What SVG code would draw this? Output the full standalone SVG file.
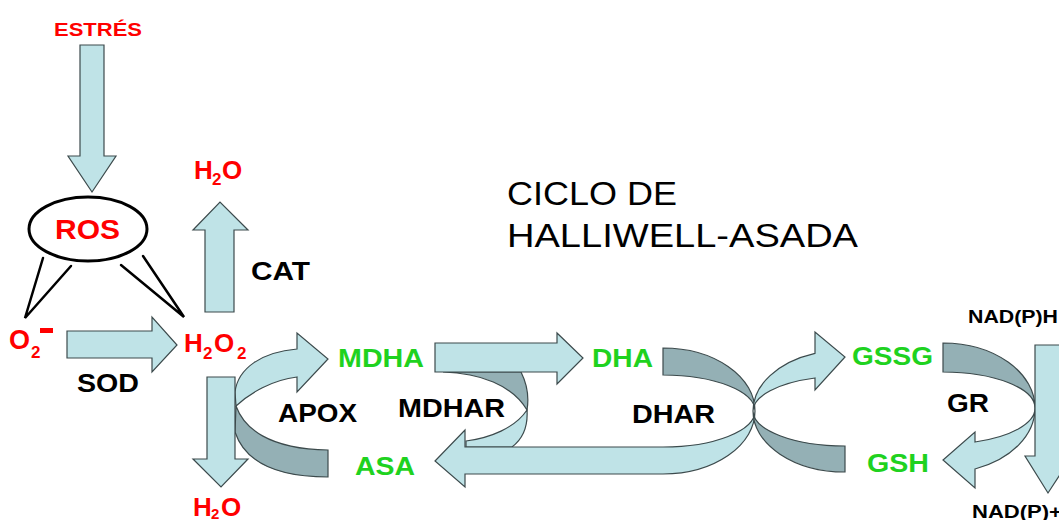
<svg xmlns="http://www.w3.org/2000/svg" width="1059" height="520" viewBox="0 0 1059 520">
  <style>
    .light { fill: #bfe3e7; stroke: #3c4a4c; stroke-width: 1.2; stroke-linejoin: miter; }
    .dark { fill: #94b0b5; stroke: #3c4a4c; stroke-width: 1.2; }
    .t { font-family: "Liberation Sans", Arial, sans-serif; font-weight: bold; }
    .red { fill: #ff0000; }
    .green { fill: #1fd21f; }
    .black { fill: #000000; }
    .title { font-family: "Liberation Sans", Arial, sans-serif; font-size: 33px; fill: #000; }
    .link { stroke: #000; stroke-width: 2.5; fill: none; stroke-linecap: round; }
  </style>
  <rect width="1059" height="520" fill="#ffffff"/>

  <!-- connectors: block arrows and curved reaction ribbons -->
  <g id="connectors">
    <!-- stress to ROS -->
    <path class="light" d="M80,45 H104 V156 H116 L92,192 L68,156 H80 Z"/>
    <!-- ROS branches -->
    <path class="link" d="M43,258 L25,318 L71,266"/>
    <path class="link" d="M121,265 L184,317 L143,256"/>
    <!-- SOD: superoxide to peroxide -->
    <path class="light" d="M67,331 H152 V317 L177,345 L152,372 V358 H67 Z"/>
    <!-- CAT: peroxide to water (up) -->
    <path class="light" d="M205,312 V230 H193 L220,202 L248,230 H234 V312 Z"/>
    <!-- APOX ribbon -->
    <path class="dark" d="M236,406 C244,428 268,449 328,450 V477 C275,477 245,462 235,432 Z"/>
    <path class="light" d="M235,392 C238,368 262,352 297,349 V333 L328,359 L297,392 V377 C272,380 250,393 236,406 Z"/>
    <!-- peroxide to water (down) -->
    <path class="light" d="M207,377 H235 V459 H248 L221,487 L193,459 H207 Z"/>
    <!-- MDHAR ribbon -->
    <path class="dark" d="M443,372 L521,372 C527,384 529,398 527,410 C512,385 480,373 443,372 Z"/>
    <path class="light" d="M527,410 C528,425 524,438 512,447 L466,447 L466,441 C490,438 515,428 527,410 Z"/>
    <!-- MDHA to DHA -->
    <path class="light" d="M435,343 H557 V333 L583,358 L557,384 V372 H435 Z"/>
    <!-- DHAR ribbon ending in the ASA arrow -->
    <path class="dark" d="M663,348 A92,63 0 0 1 755,411 A92,36 0 0 0 663,375 Z"/>
    <path class="light" d="M755,411 A92,63 0 0 1 663,474 H465 V487 L435,461 L465,430 V447 H663 A92,36 0 0 0 755,411 Z"/>
    <!-- glutathione ribbon -->
    <path class="dark" d="M753,411 A92,61 0 0 0 845,472 V446 A92,35 0 0 1 753,411 Z"/>
    <path class="light" d="M753,411 A92,61 0 0 1 815,353.3 V332 L845,357 L815,390 V378 A92,35 0 0 0 753,411 Z"/>
    <!-- GR ribbon -->
    <path class="dark" d="M943,343 A92,65 0 0 1 1035,408 A92,36 0 0 0 943,372 Z"/>
    <path class="light" d="M1035,408 A92,65 0 0 1 975,469 V488 L943,460 L975,432 V442 A92,36 0 0 0 1035,408 Z"/>
    <!-- NAD(P)H to NAD(P)+ -->
    <path class="light" d="M1035,345 H1061 V456 H1072 L1048,493 L1025,456 H1035 Z"/>
  </g>

  <g id="estres">
    <text class="t red" x="54" y="36" font-size="18" textLength="88" lengthAdjust="spacingAndGlyphs">ESTRÉS</text>
  </g>

  <g id="ros">
    <ellipse cx="88" cy="229" rx="59" ry="32" fill="#ffffff" stroke="#000" stroke-width="3"/>
    <text class="t red" x="55" y="239" font-size="28" textLength="65" lengthAdjust="spacingAndGlyphs">ROS</text>
  </g>

  <g id="superoxide">
    <text class="t red" x="9" y="349" font-size="27">O</text>
    <text class="t red" x="31" y="358" font-size="17">2</text>
    <rect x="40" y="328" width="13" height="5" fill="#ff0000"/>
  </g>

  <g id="peroxide">
    <text class="t red" x="184" y="352" font-size="26">H</text>
    <text class="t red" x="203" y="359" font-size="17">2</text>
    <text class="t red" x="214" y="352" font-size="26">O</text>
    <text class="t red" x="237" y="359" font-size="17">2</text>
  </g>

  <g id="water-top">
    <text class="t red" x="194" y="179" font-size="26">H</text>
    <text class="t red" x="212" y="185" font-size="17">2</text>
    <text class="t red" x="222" y="179" font-size="26">O</text>
  </g>

  <g id="water-bottom">
    <text class="t red" x="193" y="516" font-size="26">H</text>
    <text class="t red" x="211" y="519" font-size="15">2</text>
    <text class="t red" x="221" y="516" font-size="26">O</text>
  </g>

  <g id="enzymes">
    <text class="t black" x="251" y="280" font-size="25" textLength="59" lengthAdjust="spacingAndGlyphs">CAT</text>
    <text class="t black" x="77" y="392" font-size="25" textLength="62" lengthAdjust="spacingAndGlyphs">SOD</text>
    <text class="t black" x="278" y="422" font-size="25" textLength="79" lengthAdjust="spacingAndGlyphs">APOX</text>
    <text class="t black" x="398" y="417" font-size="25" textLength="107" lengthAdjust="spacingAndGlyphs">MDHAR</text>
    <text class="t black" x="632" y="423" font-size="25" textLength="83" lengthAdjust="spacingAndGlyphs">DHAR</text>
    <text class="t black" x="947" y="412" font-size="25" textLength="42" lengthAdjust="spacingAndGlyphs">GR</text>
  </g>

  <g id="mdha">
    <text class="t green" x="338" y="367" font-size="26" textLength="86" lengthAdjust="spacingAndGlyphs">MDHA</text>
  </g>
  <g id="dha">
    <text class="t green" x="592" y="367" font-size="26" textLength="61" lengthAdjust="spacingAndGlyphs">DHA</text>
  </g>
  <g id="asa">
    <text class="t green" x="355" y="475" font-size="26" textLength="60" lengthAdjust="spacingAndGlyphs">ASA</text>
  </g>
  <g id="gssg">
    <text class="t green" x="852" y="365" font-size="25" textLength="81" lengthAdjust="spacingAndGlyphs">GSSG</text>
  </g>
  <g id="gsh">
    <text class="t green" x="867" y="472" font-size="26" textLength="62" lengthAdjust="spacingAndGlyphs">GSH</text>
  </g>

  <g id="nadph">
    <text class="t black" x="968" y="323" font-size="18" textLength="90" lengthAdjust="spacingAndGlyphs">NAD(P)H</text>
  </g>
  <g id="nadp">
    <text class="t black" x="972" y="518" font-size="18" textLength="90" lengthAdjust="spacingAndGlyphs">NAD(P)+</text>
  </g>

  <g id="title">
    <text class="title" x="507" y="205" textLength="170" lengthAdjust="spacingAndGlyphs">CICLO DE</text>
    <text class="title" x="507" y="247" textLength="351" lengthAdjust="spacingAndGlyphs">HALLIWELL-ASADA</text>
  </g>
</svg>
